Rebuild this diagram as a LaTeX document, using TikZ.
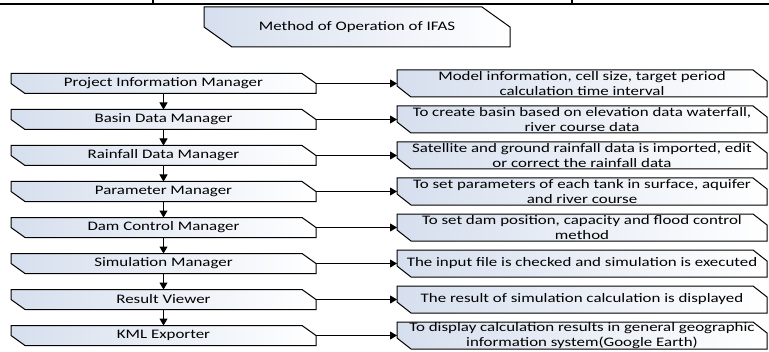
\documentclass[tikz,border=0pt]{standalone}
\usepackage{fontspec}
\setmainfont{Carlito}[FakeStretch=1.3]
\usetikzlibrary{%
  positioning,
  backgrounds,
  arrows.meta,
}
\definecolor{boxblue}{RGB}{214,223,238}

\begin{document}
\begin{tikzpicture}[%
           font=\fontsize{6.5}{7.6}\selectfont,
           node distance=8pt and 40.5pt,
           stage/.style={
             % The shape:
             rectangle,
             % The size:
             minimum width=152.5pt,
             minimum height=10pt,
             inner sep=0pt,
             outer sep=0pt,
           },
           task/.style={
             stage,
             minimum width=185pt,
             minimum height=13.5pt,
             align=center,
           },
           snip/.style={
             % The border:
             draw=black,
             line width=0.5pt,
             line join=miter,
             % The filling: bluish on the left, white on the right
             left color=boxblue,
             right color=white,
           },
           flow/.style={
             -{Triangle[length=3.5pt,width=4pt]},
             line width=0.5pt,
           }]

         \useasboundingbox (0,0) rectangle (384.5pt,-176pt);

         % rule of the page above
         \draw[line width=0.6pt] (0,-2pt) -- (384.5pt,-2pt);
         \draw[line width=0.6pt] (76.5pt,0) -- (76.5pt,-2pt);
         \draw[line width=0.6pt] (286pt,0) -- (286pt,-2pt);

         \node[stage, minimum width=153pt, minimum height=20pt]
               (title) at (178.5pt,-13.5pt) {Method of Operation of IFAS};

         % the managers, one below the other
         \node[stage] (pim) at (81.75pt,-41.75pt) {Project Information Manager};
         \node[stage] (basin)  [below=of pim]    {Basin Data Manager};
         \node[stage] (rain)   [below=of basin]  {Rainfall Data Manager};
         \node[stage] (param)  [below=of rain]   {Parameter Manager};
         \node[stage] (dam)    [below=of param]  {Dam Control Manager};
         \node[stage] (sim)    [below=of dam]    {Simulation Manager};
         \node[stage] (result) [below=of sim]    {Result Viewer};
         \node[stage] (kml)    [below=of result] {KML Exporter};

         % what each of them does
         \node[task] (pimdo)    [right=of pim]
               {Model information, cell size, target period\\calculation time interval};
         \node[task] (basindo)  [right=of basin]
               {To create basin based on elevation data waterfall,\\river course data};
         \node[task] (raindo)   [right=of rain]
               {Satellite and ground rainfall data is imported, edit\\or correct the rainfall data};
         \node[task] (paramdo)  [right=of param]
               {To set parameters of each tank in surface, aquifer\\and river course};
         \node[task] (damdo)    [right=of dam]
               {To set dam position, capacity and flood control\\method};
         \node[task] (simdo)    [right=of sim]
               {The input file is checked and simulation is executed};
         \node[task] (resultdo) [right=of result]
               {The result of simulation calculation is displayed};
         \node[task] (kmldo)    [right=of kml]
               {To display calculation results in general geographic\\information system(Google Earth)};

         % the boxes: top right and bottom left corners cut off
         \begin{scope}[on background layer]
           \foreach \n/\cx/\cy in {title/14pt/10pt,
                                   pim/7pt/5pt, basin/7pt/5pt, rain/7pt/5pt,
                                   param/7pt/5pt, dam/7pt/5pt, sim/7pt/5pt,
                                   result/7pt/5pt, kml/7pt/5pt,
                                   pimdo/7pt/5.5pt, basindo/7pt/5.5pt,
                                   raindo/7pt/5.5pt, paramdo/7pt/5.5pt,
                                   damdo/7pt/5.5pt, simdo/7pt/5.5pt,
                                   resultdo/7pt/5.5pt, kmldo/7pt/5.5pt}
             \draw[snip] (\n.north west) -- ([xshift=-\cx]\n.north east)
                 -- ([yshift=-\cy]\n.north east) -- (\n.south east)
                 -- ([xshift=\cx]\n.south west) -- ([yshift=\cy]\n.south west)
                 -- cycle;
         \end{scope}

         \foreach \a/\b in {pim/basin, basin/rain, rain/param, param/dam,
                            dam/sim, sim/result, result/kml}
           \draw[flow] (\a) -- (\b);

         \foreach \a in {pim, basin, rain, param, dam, sim, result, kml}
           \draw[flow] (\a) -- (\a do);

     \end{tikzpicture}
\end{document}
